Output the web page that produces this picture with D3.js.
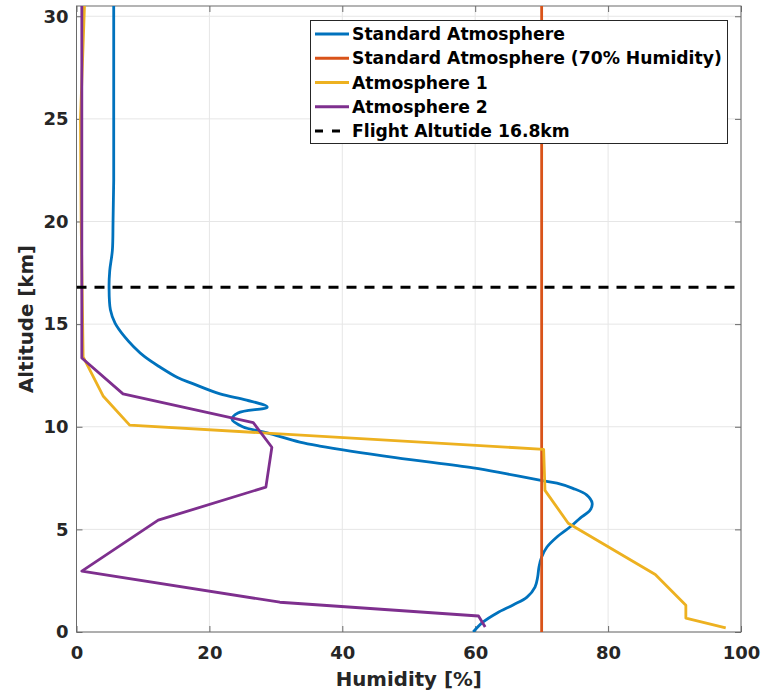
<!DOCTYPE html>
<html>
<head>
<meta charset="utf-8">
<script src="https://cdn.jsdelivr.net/npm/d3@7"></script>
<style>
  html, body { margin: 0; padding: 0; background: #fff; }
  svg { display: block; font-family: "DejaVu Sans", sans-serif; }
</style>
</head>
<body>
<script>
// ---------- data ----------
const xTicks = [0, 20, 40, 60, 80, 100];
const yTicks = [0, 5, 10, 15, 20, 25, 30];

const seriesNames = ["Standard Atmosphere", "Standard Atmosphere (70% Humidity)", "Atmosphere 1", "Atmosphere 2"];
const flightLabel = "Flight Altutide 16.8km";
const flightAltitude = 16.8;

// altitude [km]
const stdAlt = [30.5, 25, 22, 20, 18.6, 17.6, 16.8, 15.7, 15.05, 14.4, 13.9, 13.4, 12.9, 12.4, 12.1, 11.6, 11.3, 10.96, 10.67, 10.37, 10.0, 9.7, 9.25, 9.06, 8.5, 8.0, 7.7, 7.4, 7.25, 7.0, 6.67, 6.28, 5.94, 5.55, 5.2, 4.63, 4.14, 3.65, 3.17, 2.68, 2.19, 1.7, 1.32, 0.93, 0.49, 0.0];
// humidity [%]
const stdHum = [5.6, 5.6, 5.6, 5.5, 5.4, 5.0, 4.9, 5.1, 5.8, 7.2, 8.6, 10.3, 12.6, 15.2, 17.5, 21.6, 25.6, 28.7, 24.3, 23.4, 25.0, 28.7, 33.6, 36.6, 48.0, 59.7, 64.8, 69.7, 72.3, 74.7, 76.8, 77.6, 77.3, 75.8, 74.6, 72.3, 70.8, 70.0, 69.6, 69.4, 69.0, 67.8, 65.7, 63.3, 61.2, 59.7];

const std70Alt = [0, 30.5];
const std70Hum = [70, 70];

const atm1Alt = [30.5, 25, 20, 13.4, 11.5, 10.08, 8.9, 6.9, 5.3, 2.8, 1.3, 0.68, 0.2];
const atm1Hum = [1.2, 0.6, 0.7, 1.0, 4.0, 8.0, 70.3, 70.5, 74.0, 87.1, 91.7, 91.7, 97.7];

const atm2Alt = [30.5, 13.35, 11.6, 10.2, 9.0, 7.06, 5.45, 2.97, 1.45, 0.78, 0.24];
const atm2Hum = [0.8, 0.8, 7.0, 26.6, 29.4, 28.5, 12.3, 0.8, 30.6, 60.5, 61.5];

const colors = ["#0072BD", "#D95319", "#EDB120", "#7E2F8E"];

// ---------- layout ----------
const W = 765, H = 693;
const mLeft = 76.5, mRight = 741, mTop = 6, mBottom = 632;

const x = d3.scaleLinear().domain([0, 100]).range([mLeft, mRight]);
const y = d3.scaleLinear().domain([0, 30.5]).range([mBottom, mTop]);

const svg = d3.select("body").append("svg").attr("width", W).attr("height", H);

svg.append("defs").append("clipPath").attr("id", "clip")
  .append("rect").attr("x", mLeft).attr("y", mTop).attr("width", mRight - mLeft).attr("height", mBottom - mTop);

// grid
const grid = svg.append("g").attr("stroke", "#e6e6e6").attr("stroke-width", 1);
grid.selectAll("line.vx").data(xTicks).join("line").attr("class", "vx")
  .attr("x1", d => x(d)).attr("x2", d => x(d)).attr("y1", mTop).attr("y2", mBottom);
grid.selectAll("line.hy").data(yTicks).join("line").attr("class", "hy")
  .attr("x1", mLeft).attr("x2", mRight).attr("y1", d => y(d)).attr("y2", d => y(d));

// axes with inward ticks
const axColor = "#262626";
const xAxisB = svg.append("g").attr("transform", `translate(0,${mBottom})`)
  .call(d3.axisBottom(x).tickValues(xTicks).tickSizeInner(-6).tickSizeOuter(0).tickPadding(14).tickFormat(d3.format("d")));
const xAxisT = svg.append("g").attr("transform", `translate(0,${mTop})`)
  .call(d3.axisTop(x).tickValues(xTicks).tickSizeInner(-6).tickSizeOuter(0).tickFormat(""));
const yAxisL = svg.append("g").attr("transform", `translate(${mLeft},0)`)
  .call(d3.axisLeft(y).tickValues(yTicks).tickSizeInner(-6).tickSizeOuter(0).tickPadding(14).tickFormat(d3.format("d")));
const yAxisR = svg.append("g").attr("transform", `translate(${mRight},0)`)
  .call(d3.axisRight(y).tickValues(yTicks).tickSizeInner(-6).tickSizeOuter(0).tickFormat(""));

[xAxisB, xAxisT, yAxisL, yAxisR].forEach(g => {
  g.select(".domain").remove();
  g.selectAll(".tick line").attr("stroke", "#6a6a6a");
  g.selectAll("text").attr("font-family", "DejaVu Sans").attr("font-size", 18)
    .attr("font-weight", "bold").attr("fill", axColor);
});
xAxisB.selectAll("text").attr("dy", "0.71em").attr("y", 14);
yAxisL.selectAll("text").attr("x", -8);

// box
svg.append("rect").attr("x", mLeft).attr("y", mTop).attr("width", mRight - mLeft).attr("height", mBottom - mTop)
  .attr("fill", "none").attr("stroke", "#6a6a6a").attr("stroke-width", 1);

// lines
const line = d3.line().x(d => x(d[1])).y(d => y(d[0]));
const smooth = d3.line().x(d => x(d[1])).y(d => y(d[0])).curve(d3.curveCatmullRom.alpha(0.5));

const plot = svg.append("g").attr("clip-path", "url(#clip)").attr("fill", "none").attr("stroke-width", 2.8)
  .attr("stroke-linejoin", "round");

const zip = (a, b) => a.map((v, i) => [v, b[i]]);

plot.append("path").attr("d", smooth(zip(stdAlt, stdHum))).attr("stroke", colors[0]);
plot.append("path").attr("d", line(zip(std70Alt, std70Hum))).attr("stroke", colors[1]);
plot.append("path").attr("d", line(zip(atm1Alt, atm1Hum))).attr("stroke", colors[2]);
plot.append("path").attr("d", line(zip(atm2Alt, atm2Hum))).attr("stroke", colors[3]);
plot.append("line").attr("x1", x(0)).attr("x2", x(100)).attr("y1", y(flightAltitude)).attr("y2", y(flightAltitude))
  .attr("stroke", "#000").attr("stroke-width", 3).attr("stroke-dasharray", "10,8");

// axis labels
svg.append("text").attr("x", (mLeft + mRight) / 2).attr("y", 686).attr("text-anchor", "middle")
  .attr("font-size", 19.8).attr("font-weight", "bold").attr("fill", axColor).text("Humidity [%]");
svg.append("text").attr("transform", `translate(33,${(mTop + mBottom) / 2}) rotate(-90)`).attr("text-anchor", "middle")
  .attr("font-size", 19.8).attr("font-weight", "bold").attr("fill", axColor).text("Altitude [km]");

// legend
const lg = svg.append("g");
lg.append("rect").attr("x", 310.5).attr("y", 20.5).attr("width", 417).attr("height", 123)
  .attr("fill", "#fff").attr("stroke", "#262626").attr("stroke-width", 1);
const legendItems = seriesNames.map((n, i) => ({ name: n, color: colors[i], dash: null }))
  .concat([{ name: flightLabel, color: "#000", dash: "8,9" }]);
const rowY = d3.scaleLinear().domain([0, 4]).range([34, 131]);
legendItems.forEach((d, i) => {
  lg.append("line").attr("x1", 315).attr("x2", 349).attr("y1", rowY(i)).attr("y2", rowY(i))
    .attr("stroke", d.color).attr("stroke-width", 2.8).attr("stroke-dasharray", d.dash);
  lg.append("text").attr("x", 352).attr("y", rowY(i)).attr("dy", "0.36em")
    .attr("font-size", 17.2).attr("font-weight", "bold").attr("fill", "#000").text(d.name);
});
</script>
</body>
</html>
